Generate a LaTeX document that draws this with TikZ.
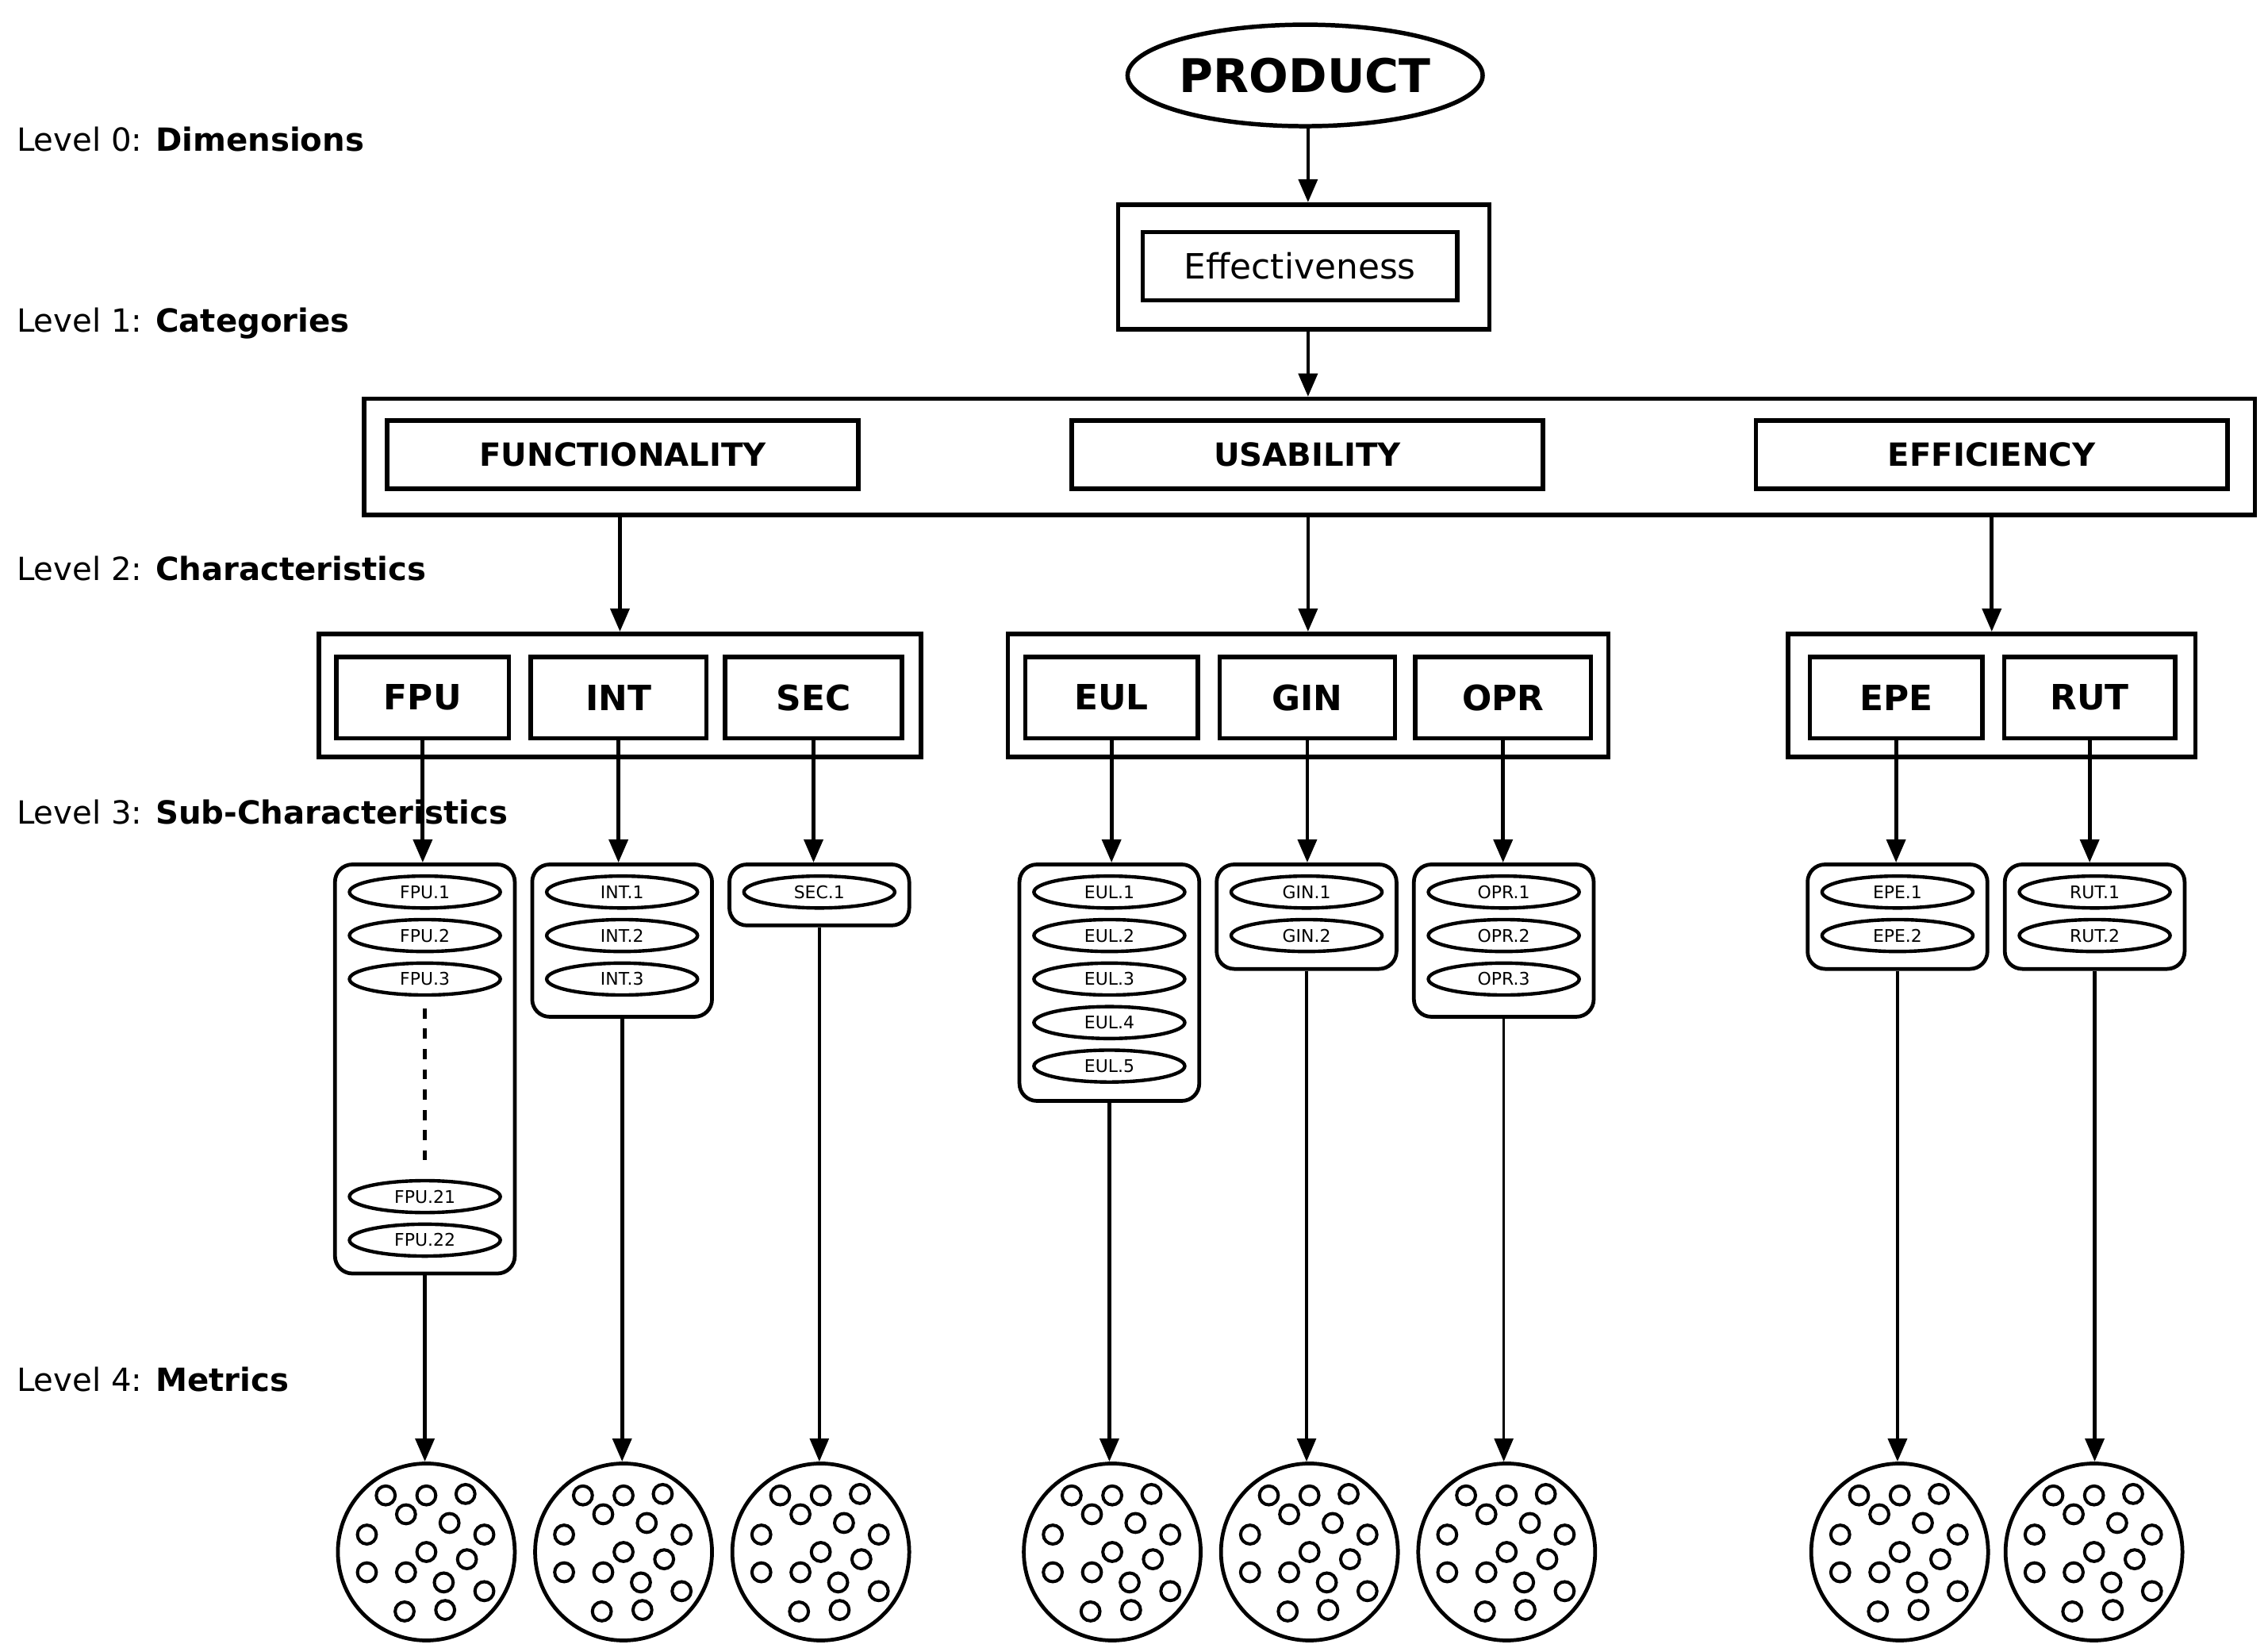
\documentclass[tikz,border=0pt]{standalone}
\usepackage{fontspec}
\setmainfont{DejaVu Sans}
\usetikzlibrary{shapes.geometric,arrows.meta}
\begin{document}
\begin{tikzpicture}[x=1pt,y=-1pt,
  box/.style={draw,line width=3pt,rectangle,inner sep=0pt},
  lab/.style={font=\fontsize{22}{24}\selectfont\bfseries},
  sub/.style={draw,line width=2.6pt,rounded corners=12pt,minimum width=124pt,inner sep=0pt},
  el/.style={draw,ellipse,line width=2.4pt,minimum width=104pt,minimum height=22pt,inner sep=0pt,font=\fontsize{12}{12}\selectfont},
  met/.style={draw,circle,line width=2.6pt,minimum size=122pt,inner sep=0pt},
  arr/.style={line width=2.6pt,-{Triangle[length=16pt,width=13pt]}},
  tarr/.style={line width=2pt,-{Triangle[length=16pt,width=13pt]}},
  lvl/.style={anchor=west,font=\fontsize{22}{24}\selectfont}]
\useasboundingbox (0,0) rectangle (1564,1136);
% levels
\node[lvl] (l0) at (8,96) {Level 0: \textbf{Dimensions}};
\node[lvl] (l1) at (8,223) {Level 1: \textbf{Categories}};
\node[lvl] (l2) at (8,392) {Level 2: \textbf{Characteristics}};
\node[lvl] (l3) at (8,560) {Level 3: \textbf{Sub-Characteristics}};
\node[lvl] (l4) at (8,951) {Level 4: \textbf{Metrics}};
% top
\node[draw,ellipse,line width=3pt,minimum width=242pt,minimum height=70pt,inner sep=0pt,font=\fontsize{32}{34}\selectfont\bfseries] (prod) at (900,52) {PRODUCT};
\node[box,minimum width=256pt,minimum height=86pt] (effo) at (899,184) {};
\node[box,minimum width=217pt,minimum height=47pt,font=\fontsize{24}{26}\selectfont] (eff) at (896.5,183.5) {Effectiveness};
\draw[arr] (prod.south -| 902,0) -- (effo.north -| 902,0);
\node[box,minimum width=1304pt,minimum height=80pt] (big) at (903,315) {};
\draw[arr] (effo.south -| 902,0) -- (big.north -| 902,0);
\node[box,lab,minimum width=325pt,minimum height=47pt] (func) at (429.5,313.5) {FUNCTIONALITY};
\node[box,lab,minimum width=325pt,minimum height=47pt] (usa) at (901.5,313.5) {USABILITY};
\node[box,lab,minimum width=325pt,minimum height=47pt] (effi) at (1373.5,313.5) {EFFICIENCY};
% groups
\node[box,minimum width=415pt,minimum height=85pt] (g1) at (427.5,479.5) {};
\node[box,minimum width=414pt,minimum height=85pt] (g2) at (902,479.5) {};
\node[box,minimum width=281pt,minimum height=85pt] (g3) at (1373.5,479.5) {};
\draw[arr] (big.south -| g1.north) -- (g1.north);
\draw[arr] (big.south -| g2.north) -- (g2.north);
\draw[arr] (big.south -| g3.north) -- (g3.north);
\foreach \n/\x/\w in {FPU/291.5/119,INT/426.5/121,SEC/561/122,EUL/766.5/119,GIN/901.5/121,OPR/1036.5/121,EPE/1307.5/119,RUT/1441/118}
  \node[box,minimum width=\w pt,minimum height=56pt,font=\fontsize{24}{26}\selectfont\bfseries] (\n) at (\x,481) {\n};
% sub boxes
\foreach \n/\x/\y/\h in {FPU/293/737/282,INT/429/648.5/105,SEC/565/617/42,EUL/765/677.5/163,GIN/901/632/72,OPR/1037/648.5/105,EPE/1308.5/632/72,RUT/1444.5/632/72}
  \node[sub,minimum height=\h pt] (s\n) at (\x,\y) {};
\foreach \n in {FPU,INT,SEC,EUL,GIN,OPR,EPE,RUT}
  \draw[arr] (\n.south) -- (\n.south |- s\n.north);
% ellipses
\foreach \n/\x/\k in {FPU/293/3,INT/429/3,SEC/565/1,EUL/765/5,GIN/901/2,OPR/1037/3,EPE/1308.5/2,RUT/1444.5/2}
  \foreach \i in {1,...,\k}
    \node[el] (e\n\i) at (\x,{585+30*\i}) {\n.\i};
\node[el] (eFPU21) at (293,825) {FPU.21};
\node[el] (eFPU22) at (293,855) {FPU.22};
\draw[line width=3pt,dash pattern=on 7pt off 7pt] (eFPU3.south) ++(0,8) coordinate (d1) -- (d1 |- 0,800) coordinate (d2);
% metrics
\foreach \n/\x in {FPU/294,INT/430,SEC/566,EUL/767,GIN/903,OPR/1039,EPE/1310,RUT/1444}{
  \node[met] (m\n) at (\x,1070) {};
  \foreach \dx/\dy in {-28/-39,0/-39,27/-40,-14/-26,16/-20,-41/-12,40/-12,0/0,28/5,-41/14,-14/14,12/21,40/27,-15/41,13/40}
    \draw[line width=2.2pt] ([shift={(\dx,\dy)}]m\n.center) circle (6.5pt);
}
\foreach \n in {FPU,INT,EUL,EPE,RUT}
  \draw[arr] (s\n.south) -- (s\n.south |- m\n.north);
\foreach \n in {SEC,GIN,OPR}
  \draw[tarr] (s\n.south) -- (s\n.south |- m\n.north);
\end{tikzpicture}
\end{document}
